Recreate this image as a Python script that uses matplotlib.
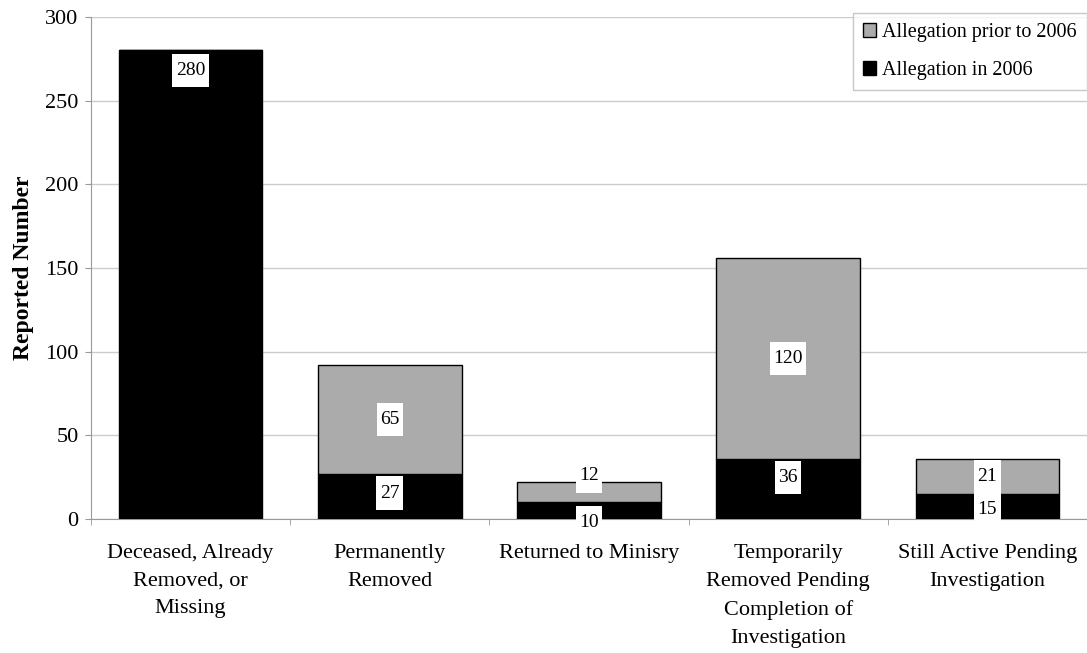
import numpy as np
import matplotlib
matplotlib.use("Agg")
import matplotlib.pyplot as plt
from matplotlib.patches import Patch
from matplotlib.path import Path

# data
categories = [
    "Deceased, Already\nRemoved, or\nMissing",
    "Permanently\nRemoved",
    "Returned to Minisry",
    "Temporarily\nRemoved Pending\nCompletion of\nInvestigation",
    "Still Active Pending\nInvestigation",
]
in_2006 = [280, 27, 10, 36, 15]
prior_2006 = [0, 65, 12, 120, 21]

plt.rcParams["font.family"] = ["Liberation Serif", "DejaVu Serif"]


def tall_box(x0, y0, width, height, mutation_size):
    # white label box: narrow side padding, tall top/bottom padding
    px = 0.18 * mutation_size
    py = 0.42 * mutation_size
    x0, y0 = x0 - px, y0 - py
    x1, y1 = x0 + width + 2 * px, y0 + height + 2 * py
    return Path([(x0, y0), (x1, y0), (x1, y1), (x0, y1), (x0, y0)], closed=True)


fig = plt.figure(figsize=(10.87, 6.53), dpi=100)
ax = fig.add_axes([0.0837, 0.2052, 0.9163, 0.7688])

x = np.arange(len(categories))
width = 0.72
ax.bar(x, in_2006, width, color="black", edgecolor="black", linewidth=1, zorder=3)
ax.bar(x, prior_2006, width, bottom=in_2006, color="#ababab",
       edgecolor="black", linewidth=1, zorder=3)

# value labels in white boxes (a few are nudged like in the original)
box = dict(facecolor="white", edgecolor="none", boxstyle=tall_box)
shift_black = {0: 128, 3: 7, 1: 2, 2: -7, 4: -2}
shift_gray = {2: 9.7}
for i in x:
    if in_2006[i]:
        y = in_2006[i] / 2 + shift_black.get(i, 0)
        ax.text(i, y, str(in_2006[i]), ha="center", va="center",
                fontsize=14, bbox=box, zorder=4)
    if prior_2006[i]:
        y = in_2006[i] + prior_2006[i] / 2 + shift_gray.get(i, 0)
        ax.text(i, y, str(prior_2006[i]), ha="center", va="center",
                fontsize=14, bbox=box, zorder=4)

ax.set_xlim(-0.5, len(categories) - 0.5)
ax.set_ylim(0, 300)
ax.set_yticks(range(0, 301, 50))
ax.tick_params(axis="y", labelsize=16, length=4, color="#999999", pad=5)
ax.yaxis.grid(True, color="#cccccc", linewidth=1, zorder=0)

ax.set_xticks(x)
ax.set_xticklabels(categories, fontsize=16, linespacing=1.62)
ax.tick_params(axis="x", length=0, pad=18)
ax.set_xticks(np.arange(-0.5, len(categories)), minor=True)
ax.tick_params(axis="x", which="minor", length=4, color="#999999")

for side in ["top", "right"]:
    ax.spines[side].set_visible(False)
for side in ["left", "bottom"]:
    ax.spines[side].set_color("#999999")

ax.set_ylabel("Reported Number", fontsize=17, fontweight="bold", labelpad=8)

handles = [Patch(facecolor="#ababab", edgecolor="black", label="Allegation prior to 2006"),
           Patch(facecolor="black", edgecolor="black", label="Allegation in 2006")]
leg = ax.legend(handles=handles, loc="upper right", bbox_to_anchor=(1.0, 1.008),
                fontsize=14.5, frameon=True, fancybox=False, handlelength=0.65,
                handleheight=0.65, handletextpad=0.3, borderpad=0.5,
                borderaxespad=0.0, labelspacing=0.95)
leg.get_frame().set_edgecolor("#bbbbbb")
leg.get_frame().set_linewidth(1)

fig.savefig("out.png", dpi=100)
